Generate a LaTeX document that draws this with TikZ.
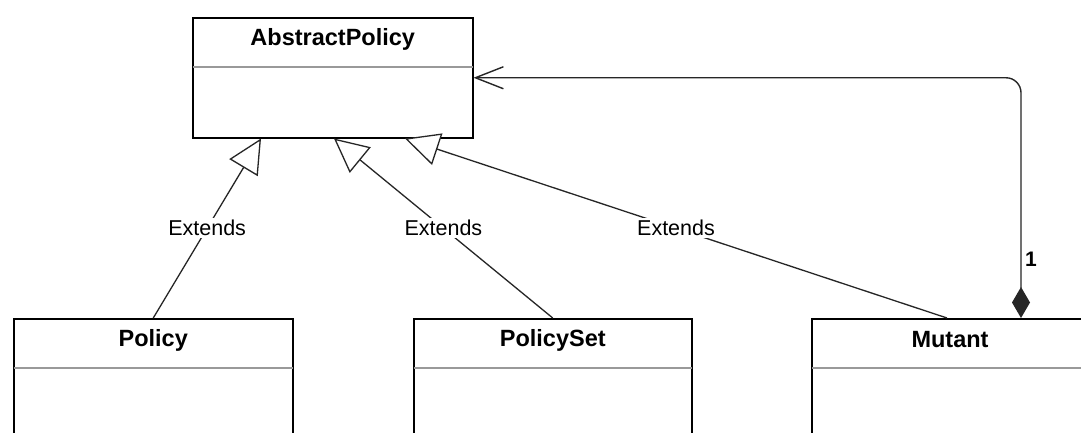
\documentclass[tikz,border=0pt]{standalone}
\usepackage{fontspec}
\setmainfont{Liberation Sans}
\usetikzlibrary{arrows.meta,calc}
\begin{document}
\begin{tikzpicture}[x=1pt,y=-1pt,
  cls/.style={draw=black,line width=1.5pt,fill=white,rectangle,inner sep=0pt,anchor=north west},
  title/.style={font=\fontsize{23.5}{28}\selectfont\bfseries,inner sep=0pt},
  divider/.style={draw=black!40,line width=1.4pt},
  ext/.style={draw=black!85,line width=1.3pt,-{Triangle[open,length=34pt,width=33pt,fill=white]}},
  extlbl/.style={fill=white,font=\fontsize{21.5}{25}\selectfont,inner sep=2pt},
  comp/.style={draw=black!85,line width=1.4pt,rounded corners=15pt,
    {Diamond[length=31pt,width=18pt]}-{Straight Barb[length=28pt,width=22pt,line width=1.4pt]}},
  mult/.style={font=\fontsize{21}{25}\selectfont\bfseries,inner sep=0pt,anchor=west}]
\useasboundingbox (0,0) rectangle (1081,432);
\clip (0,0) rectangle (1081,432);
\fill[white] (0,0) rectangle (1081,432);
% classes
\node[cls,minimum width=280pt,minimum height=120pt] (ap) at (192,17) {};
\node[cls,minimum width=279pt,minimum height=140pt] (pol) at (13,318) {};
\node[cls,minimum width=278pt,minimum height=140pt] (ps) at (413,318) {};
\node[cls,minimum width=284pt,minimum height=140pt] (mu) at (811,318) {};
% titles
\node[title] (apt) at ($(ap.north)+(0,22)$) {AbstractPolicy};
\node[title] (polt) at ($(pol.north)+(0,22)$) {Policy};
\node[title] (pst) at ($(ps.north)+(0,22)$) {PolicySet};
\node[title] (mut) at ($(mu.north west)+(139,22)$) {Mutant};
% dividers
\draw[divider] ($(ap.north west)+(0.8,50)$) -- ($(ap.north east)+(-0.8,50)$);
\draw[divider] ($(pol.north west)+(0.8,50)$) -- ($(pol.north east)+(-0.8,50)$);
\draw[divider] ($(ps.north west)+(0.8,50)$) -- ($(ps.north east)+(-0.8,50)$);
\draw[divider] ($(mu.north west)+(0.8,50)$) -- ($(mu.north east)+(-0.8,50)$);
% generalisations
\coordinate (t1) at ($(ap.south west)+(69,0)$);
\coordinate (t2) at ($(ap.south west)+(142,0)$);
\coordinate (t3) at ($(ap.south west)+(213,0)$);
\coordinate (s3) at ($(mu.north west)+(136,0)$);
\draw[ext] (pol.north) -- node[extlbl] (l1) {Extends} (t1);
\draw[ext] (ps.north) -- node[extlbl] (l2) {Extends} (t2);
\draw[ext] (s3) -- node[extlbl] (l3) {Extends} (t3);
% composition
\coordinate (cs) at ($(mu.north west)+(210,0)$);
\draw[comp] (cs) |- (ap.east);
\node[mult] (m1) at ($(cs)+(4,-59)$) {1};
\end{tikzpicture}
\end{document}
